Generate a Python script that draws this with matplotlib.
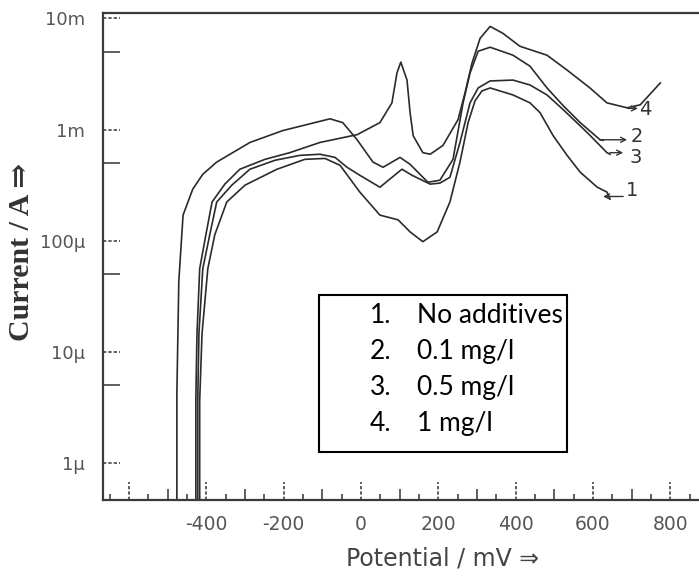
import numpy as np
import matplotlib
matplotlib.use("Agg")
import matplotlib.pyplot as plt
from matplotlib.patches import Rectangle
from matplotlib.ticker import FixedLocator, FixedFormatter, NullFormatter

plt.rcParams["axes.unicode_minus"] = False

# potential in mV, current in mA
potential_1 = [-417, -417, -411, -396, -378, -347, -300, -217, -145, -93, -54, -3, 49, 96,
               127, 160, 197, 230, 256, 277, 295, 313, 334, 393, 437, 463, 497, 533, 567,
               611, 636, 644]
current_1 = [0.0003, 0.00365, 0.0145, 0.056, 0.113, 0.223, 0.316, 0.44, 0.54, 0.55, 0.477,
             0.274, 0.17, 0.154, 0.12, 0.098, 0.12, 0.223, 0.51, 1.155, 1.82, 2.23, 2.37,
             2.05, 1.74, 1.42, 0.88, 0.586, 0.413, 0.303, 0.274, 0.237]

potential_2 = [-476, -476, -471, -460, -435, -409, -373, -287, -202, -80, -47, -10, 31, 57,
               101, 127, 173, 204, 238, 264, 282, 303, 334, 393, 437, 481, 523, 567, 618, 626]
current_2 = [0.0003, 0.0042, 0.043, 0.17, 0.291, 0.396, 0.51, 0.766, 0.98, 1.25, 1.155, 0.81,
             0.51, 0.458, 0.562, 0.487, 0.336, 0.35, 0.54, 1.74, 3.23, 5.07, 5.51, 4.67,
             3.72, 2.37, 1.64, 1.155, 0.81, 0.80]

potential_3 = [-422, -422, -419, -409, -391, -373, -334, -287, -222, -158, -106, -67, -36, -3,
               49, 106, 132, 179, 204, 230, 256, 282, 303, 334, 393, 437, 481, 523, 585, 636,
               644]
current_3 = [0.0003, 0.00365, 0.0145, 0.056, 0.113, 0.223, 0.316, 0.44, 0.53, 0.586, 0.60,
             0.562, 0.458, 0.388, 0.303, 0.44, 0.388, 0.323, 0.33, 0.372, 0.766, 1.74, 2.37,
             2.74, 2.79, 2.52, 2.05, 1.51, 0.94, 0.62, 0.60]

potential_4 = [-427, -427, -424, -417, -401, -385, -352, -313, -248, -184, -106, -10, 49, 80,
               93, 103, 119, 127, 135, 160, 179, 212, 251, 269, 287, 308, 334, 367, 411, 481,
               533, 592, 636, 688, 722, 774]
current_4 = [0.0003, 0.00365, 0.0145, 0.056, 0.113, 0.223, 0.323, 0.44, 0.54, 0.62, 0.766,
             0.90, 1.155, 1.74, 3.23, 4.05, 2.79, 1.42, 0.88, 0.62, 0.60, 0.72, 1.23, 2.14,
             3.96, 6.63, 8.48, 7.35, 5.62, 4.67, 3.43, 2.37, 1.74, 1.57, 1.67, 2.63]

curve_labels = ["1", "2", "3", "4"]
label_x = [701, 714, 711, 735]
label_y = [0.283, 0.86, 0.562, 1.51]
arrow_from_x = [678, 618, 644, 690]
arrow_to_x = [626, 688, 678, 716]
arrow_y = [0.25, 0.81, 0.62, 1.55]

legend_items = ["No additives", "0.1 mg/l", "0.5 mg/l", "1 mg/l"]

y_ticks = [1e-6, 1e-5, 1e-4, 1e-3, 1e-2]
y_tick_labels = ["1µ", "10µ", "100µ", "1m", "10m"]
y_minor = [5e-6, 5e-5, 5e-4, 5e-3]
x_ticks = [-600, -400, -200, 0, 200, 400, 600, 800]
x_tick_labels = ["", "-400", "-200", "0", "200", "400", "600", "800"]
x_minor = [-500, -300, -100, 100, 300, 500, 700]
x_fine = [-650, -550, -450, -350, -250, -150, -50, 50, 150, 250, 350, 450, 550, 650, 750, 850]

W, H = 699, 579
fig = plt.figure(figsize=(W / 100, H / 100), dpi=100)
ax = fig.add_axes([103 / W, 79 / H, 596 / W, 487 / H])
ax.set_yscale("log")

line_color = "#2b2b2b"
for p, c in [(potential_1, current_1), (potential_2, current_2),
             (potential_3, current_3), (potential_4, current_4)]:
    ax.plot(p, np.array(c) * 1e-3, color=line_color, lw=1.2, solid_joinstyle="round")

# hand-written curve numbers with their little arrows
for lab, lx, ly, ax0, ax1, ay in zip(curve_labels, label_x, label_y,
                                     arrow_from_x, arrow_to_x, arrow_y):
    ax.annotate("", xy=(ax1, ay * 1e-3), xytext=(ax0, ay * 1e-3),
                arrowprops=dict(arrowstyle="->", lw=1.0, color="#333333",
                                shrinkA=0, shrinkB=0, mutation_scale=9))
    ax.text(lx, ly * 1e-3, lab, ha="center", va="center", fontsize=14, color="#333333")

ax.set_xlim(-667, 874)
ax.set_ylim(4.64e-7, 1.12e-2)

spine_color = "#3a3a3a"
ax.spines["right"].set_visible(False)
for s in ["left", "bottom", "top"]:
    ax.spines[s].set_linewidth(1.6)
    ax.spines[s].set_color(spine_color)

# y axis: dashed decades, solid 5x minor ticks
ax.yaxis.set_major_locator(FixedLocator(y_ticks))
ax.yaxis.set_major_formatter(FixedFormatter(y_tick_labels))
ax.yaxis.set_minor_locator(FixedLocator(y_minor))
ax.yaxis.set_minor_formatter(NullFormatter())
ax.tick_params(axis="y", which="major", length=0, pad=13, labelsize=13, labelcolor="#555555")
ax.tick_params(axis="y", which="minor", direction="in", length=12, width=1.2, color="#444444")
ax.hlines(y_ticks, 0, 17 / 596, transform=ax.get_yaxis_transform(), colors="#444444",
          linewidth=1.2, linestyles=(0, (2, 1.2)), clip_on=False)

# x axis: dashed labelled ticks, medium hundreds, short fifties
ax.xaxis.set_major_locator(FixedLocator(x_ticks))
ax.xaxis.set_major_formatter(FixedFormatter(x_tick_labels))
ax.xaxis.set_minor_locator(FixedLocator(x_minor))
ax.xaxis.set_minor_formatter(NullFormatter())
ax.tick_params(axis="x", which="major", length=0, pad=10.5, labelsize=13.5, labelcolor="#555555")
ax.tick_params(axis="x", which="minor", direction="in", length=8, width=1.2, color="#444444")
ax.vlines(x_ticks, 0, 18 / 487, transform=ax.get_xaxis_transform(), colors="#444444",
          linewidth=1.2, linestyles=(0, (2, 1.2)), clip_on=False)
ax.vlines(x_fine, 0, 6 / 487, transform=ax.get_xaxis_transform(), colors="#444444",
          linewidth=1.2)

fig.text(443 / W, 1 - 558 / H, "Potential / mV ⇒", ha="center", va="center",
         fontsize=17, color="#444444")
fig.text(22 / W, 1 - 252 / H, "Current / A ⇒", rotation=90, ha="center", va="center",
         fontsize=21.5, fontweight="bold", color="#333333",
         family=["Liberation Serif", "DejaVu Serif"])

# legend box
box = Rectangle((319 / W, 1 - 452 / H), 248 / W, 157 / H, transform=fig.transFigure,
                facecolor="white", edgecolor="black", lw=1.5, zorder=5)
fig.patches.append(box)
for i, item in enumerate(legend_items):
    yb = 1 - (323 + 36 * i) / H
    fig.text(370 / W, yb, f"{i + 1}.", va="baseline", ha="left", fontsize=19,
             family="Lato", zorder=6)
    fig.text(417 / W, yb, item, va="baseline", ha="left", fontsize=19,
             family="Lato", zorder=6)

fig.savefig("out.png", dpi=100)
